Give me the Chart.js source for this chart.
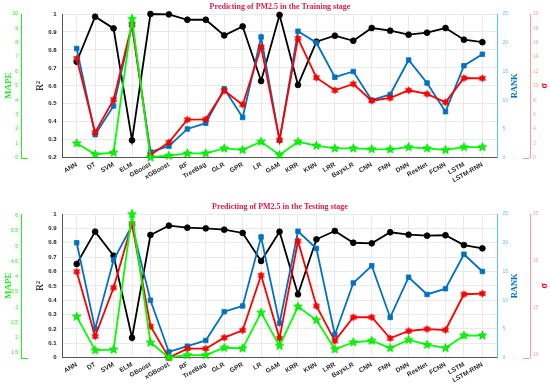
<!DOCTYPE html>
<html><head><meta charset="utf-8">
<script src="https://cdn.jsdelivr.net/npm/chart.js@4.4.1/dist/chart.umd.min.js"></script>
<style>
html,body{margin:0;padding:0;background:#fff;overflow:hidden;}
canvas{position:absolute;left:0;}
#c1{top:0;}
#c2{top:190px;}
</style></head><body>
<canvas id="c1" width="550" height="190"></canvas>
<canvas id="c2" width="550" height="196"></canvas>
<script>
// ---------- data ----------
const categories = ['ANN','DT','SVM','ELM','GBoost','xGBoost','RF','TreeBag','GLR','GPR','LR','GAM','KRR','KNN','LRR','BaysLR','CNN','FNN','DNN','ResNet','FCNN','LSTM','LSTM-RNN'];

const trainR2    = [0.734,0.985,0.92,0.297,1.0,0.998,0.968,0.968,0.881,0.931,0.627,0.995,0.605,0.846,0.879,0.851,0.922,0.907,0.885,0.896,0.922,0.857,0.843];
const trainRank  = [19,4,9,23,1,2,5,6,12,7,21,3,22,20,14,15,10,11,17,13,8,16,18];
const trainSigma = [13.8,3.5,8.07,18.57,0.38,2.14,5.29,5.34,9.33,7.38,15.4,2.46,16.6,11.13,9.38,10.26,7.93,8.31,9.38,8.87,7.71,11.09,11.05];
const trainMape  = [1.0,0.24,0.35,9.65,0.03,0.14,0.3,0.3,0.65,0.54,1.11,0.19,1.11,0.84,0.65,0.65,0.6,0.58,0.74,0.65,0.54,0.74,0.74];

const testR2    = [0.652,0.877,0.71,0.139,0.854,0.919,0.905,0.9,0.891,0.868,0.673,0.877,0.441,0.824,0.882,0.80,0.796,0.873,0.856,0.849,0.852,0.784,0.761];
const testRank  = [20,5,17,23,10,1,2,3,8,9,21,6,22,19,4,13,16,7,14,11,12,18,15];
const testSigma = [18.83,11.92,17.12,23.96,13.0,9.64,10.6,10.6,11.78,12.57,18.45,11.71,22.11,15.16,11.43,13.96,13.96,11.71,12.49,12.7,12.6,16.42,16.49];
const testMape  = [2.69,1.59,1.61,6.05,1.84,1.35,1.43,1.43,1.67,1.65,2.82,1.73,3.02,2.58,1.62,1.85,1.9,1.66,1.93,1.77,1.66,2.07,2.07];

// tick labels
const trainMapeTicks  = [0,1,2,3,4,5,6,7,8,9,10];
const trainR2Ticks    = [0.2,0.3,0.4,0.5,0.6,0.7,0.8,0.9,1];
const trainSigmaTicks = [0,2,4,6,8,10,12,14,16,18,20];
const rankTicks       = [0,5,10,15,20,25];
const testMapeTicks   = [1.5,2,2.5,3,3.5,4,4.5,5,5.5,6];
const testR2Ticks     = [0,0.1,0.2,0.3,0.4,0.5,0.6,0.7,0.8,0.9,1];
const testSigmaTicks  = [10,15,20,25];

const trainTitle = 'Predicting of PM2.5 in the Training stage';
const testTitle  = 'Predicting of PM2.5 in the Testing stage';

// ---------- styles ----------
const GREEN='#00ff00', GREEN_AX='#22ee22';
const BLUE='#0072bd', BLUE_AX='#5cc0ee';
const RED='#ff0000', RED_AX='#ff9a9a';
const SANS='"Liberation Sans", Arial, sans-serif';
const SERIF='"Liberation Serif", "Times New Roman", serif';
const TITLE_COL='#d8204c';

function starImage(n, outer, inner, fill, stroke){
  const s = Math.ceil(outer*2)+3;
  const c = document.createElement('canvas'); c.width=s; c.height=s;
  const g = c.getContext('2d'); const cx=s/2, cy=s/2;
  g.beginPath();
  for(let i=0;i<2*n;i++){
    const r = i%2===0?outer:inner;
    const a = -Math.PI/2 + i*Math.PI/n;
    const x=cx+r*Math.cos(a), y=cy+r*Math.sin(a);
    if(i===0) g.moveTo(x,y); else g.lineTo(x,y);
  }
  g.closePath(); g.fillStyle=fill; g.fill();
  g.lineWidth=0.8; g.strokeStyle=stroke; g.stroke();
  return c;
}
const greenStar = starImage(5, 4.6, 1.9, GREEN, '#00cc00');
const redStar   = starImage(6, 3.6, 2.0, RED, '#dd0000');

function pts(arr){ return arr.map((v,i)=>({x:i,y:v})); }
function fixTicks(list){ return s => { s.ticks = list.map(v=>({value:v})); }; }
const fmt = v => String(+Number(v).toFixed(3));

function vText(ctx, text, x, y, font, color){
  ctx.save();
  ctx.translate(x, y); ctx.rotate(-Math.PI/2);
  ctx.font=font; ctx.fillStyle=color; ctx.textAlign='center'; ctx.textBaseline='middle';
  ctx.fillText(text, 0, 0);
  ctx.restore();
}

const decor = {
  id:'decor',
  afterDraw(chart, args, opts){
    const ctx=chart.ctx, ca=chart.chartArea;
    const m=chart.scales.mape, s=chart.scales.sigma, r=chart.scales.rank;
    const yb = Math.round(ca.bottom)+0.5;
    ctx.save();
    ctx.lineWidth=1;
    ctx.strokeStyle=GREEN_AX;
    ctx.beginPath(); ctx.moveTo(m.right, yb); ctx.lineTo(m.right+7, yb); ctx.stroke();
    ctx.strokeStyle=RED_AX;
    ctx.beginPath(); ctx.moveTo(s.left-7, yb); ctx.lineTo(s.left, yb); ctx.stroke();
    ctx.font='bold 8px '+SERIF;
    ctx.fillStyle=TITLE_COL; ctx.textAlign='center'; ctx.textBaseline='middle';
    ctx.fillText(opts.text, (ca.left+ca.right)/2, opts.y);
    ctx.restore();
    const my = (ca.top+ca.bottom)/2;
    vText(ctx, 'RANK', r.right-15.7, my, 'bold 8.5px '+SERIF, BLUE);
    vText(ctx, 'σ', s.right-6, my, 'bold 10px '+SERIF, RED);
  }
};

function makeChart(id, cfg){
  const ds = (label, data, axis, color, style, radius) => ({
    label, data: pts(data), yAxisID: axis, borderColor: color, backgroundColor: color,
    borderWidth: 1.8, pointStyle: style, pointRadius: radius, pointBorderWidth: 0.8,
    pointBorderColor: color, pointBackgroundColor: color, clip: false, tension: 0
  });
  return new Chart(document.getElementById(id), {
    type:'line',
    data:{ datasets:[
      ds('MAPE', cfg.mape, 'mape', GREEN, greenStar, 4),
      ds('σ', cfg.sigma, 'sigma', RED, redStar, 4),
      ds('RANK', cfg.rank, 'rank', BLUE, 'rect', 3.2),
      ds('R²', cfg.r2, 'r2', '#000000', 'circle', 2.9)
    ]},
    options:{
      responsive:false, animation:false, devicePixelRatio:1,
      layout:{padding:{top:cfg.top, left:0, right:0, bottom:0}},
      plugins:{legend:{display:false}, tooltip:{enabled:false}, decor:{text:cfg.title, y:cfg.titleY}},
      scales:{
        x:{ type:'linear', min:-0.77, max:22.82,
            afterBuildTicks: s=>{ s.ticks = categories.map((_,i)=>({value:i})); },
            afterFit: s=>{ s.height = cfg.xH; },
            ticks:{ callback:v=>categories[v], autoSkip:false, minRotation:30, maxRotation:30,
                    font:{family:SANS, size:6.5, weight:'bold'}, color:'#2a2a2a', padding:3 },
            grid:{ color:'#e4e4e4', drawTicks:false, lineWidth:0.8 },
            border:{ color:'#555', width:1 } },
        mape:{ position:'left', weight:1, min:cfg.mapeMin, max:cfg.mapeMax,
            afterBuildTicks: fixTicks(cfg.mapeTicks), afterFit: s=>{ s.width=21; },
            grid:{display:false, drawTicks:false}, border:{display:true, color:GREEN_AX, width:1},
            ticks:{color:GREEN_AX, font:{family:SANS, size:5}, padding:3, callback:fmt},
            title:{display:true, text:'MAPE', color:GREEN_AX, font:{family:SERIF, size:9, weight:'bold'}, padding:{top:3, bottom:0}} },
        r2:{ position:'left', weight:0, min:cfg.r2Min, max:1,
            afterBuildTicks: fixTicks(cfg.r2Ticks), afterFit: s=>{ s.width=41.5; },
            grid:{color:'#e4e4e4', drawTicks:false, lineWidth:0.8}, border:{display:true, color:'#555', width:1},
            ticks:{color:'#222', font:{family:SANS, size:6, weight:'bold'}, padding:6, callback:fmt},
            title:{display:true, text:'R²', color:'#000', font:{family:SERIF, size:10}, padding:{top:13, bottom:0}} },
        rank:{ position:'right', weight:0, min:0, max:25,
            afterBuildTicks: fixTicks(rankTicks), afterFit: s=>{ s.width=32.5; },
            grid:{display:false, drawTicks:false}, border:{display:true, color:BLUE_AX, width:1},
            ticks:{color:BLUE_AX, font:{family:SANS, size:5}, padding:5, callback:fmt},
            title:{display:false} },
        sigma:{ position:'right', weight:1, min:cfg.sigmaMin, max:cfg.sigmaMax,
            afterBuildTicks: fixTicks(cfg.sigmaTicks), afterFit: s=>{ s.width=20; },
            grid:{display:false, drawTicks:false}, border:{display:true, color:RED_AX, width:1},
            ticks:{color:RED_AX, font:{family:SANS, size:5}, padding:3, callback:fmt},
            title:{display:false} }
      }
    },
    plugins:[decor]
  });
}

makeChart('c1', { r2:trainR2, rank:trainRank, sigma:trainSigma, mape:trainMape,
  r2Min:0.2, r2Ticks:trainR2Ticks, mapeMin:0, mapeMax:10, mapeTicks:trainMapeTicks,
  sigmaMin:0, sigmaMax:20, sigmaTicks:trainSigmaTicks,
  top:14, xH:32.3, title:trainTitle, titleY:6.7 });

makeChart('c2', { r2:testR2, rank:testRank, sigma:testSigma, mape:testMape,
  r2Min:0, r2Ticks:testR2Ticks, mapeMin:1.344, mapeMax:6.056, mapeTicks:testMapeTicks,
  sigmaMin:9.636, sigmaMax:25, sigmaTicks:testSigmaTicks,
  top:24, xH:28.3, title:testTitle, titleY:17.3 });
</script>
</body></html>
